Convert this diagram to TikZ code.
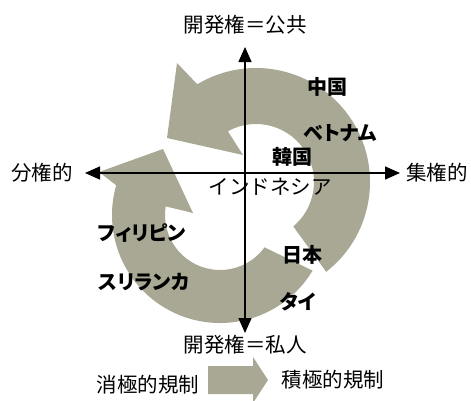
\documentclass[tikz,border=0pt]{standalone}
\usepackage{fontspec}
\newfontfamily\jp{Noto Sans CJK JP}
\newfontfamily\jpp[RawFeature=+palt]{Noto Sans CJK JP}
\usetikzlibrary{arrows.meta,calc}
\definecolor{ringgray}{RGB}{168,168,148}
\begin{document}
\begin{tikzpicture}[x=1pt,y=1pt,
  lbl/.style={font=\jp\fontsize{20.5}{20.5}\selectfont, inner sep=0pt},
  blbl/.style={font=\jpp\bfseries\fontsize{20}{20}\selectfont, inner sep=0pt},
  axisline/.style={line width=1.5pt, {Triangle[width=13pt,length=15pt]}-{Triangle[width=13pt,length=15pt]}},
  ringfill/.style={fill=ringgray, draw=none}]
\useasboundingbox (0,0) rectangle (471,400);
\clip (0,0) rectangle (471,400);
\coordinate (Cb) at (256,218);
\coordinate (Cs) at (220,185);
% big arrow (counter-clockwise, top)
\fill[ringfill] ($(Cb)+(-52:114)$) arc[start angle=-52,end angle=121,radius=114]
  -- (177,337) -- (167,262) -- (243,245)
  -- ($(Cb)+(119:58)$) arc[start angle=119,end angle=-50,radius=58] -- cycle;
% small arrow (bottom-left)
\fill[ringfill] ($(Cs)+(-31:108)$) arc[start angle=-31,end angle=-196,radius=108]
  -- (99,228) -- (163,251) -- (193,187)
  -- ($(Cs)+(-189:55)$) arc[start angle=-189,end angle=-36,radius=55] -- cycle;
% axes
\coordinate (T) at (245,353);
\coordinate (B) at (245,67);
\coordinate (L) at (85,227);
\coordinate (R) at (400,227);
\draw[axisline] (B) -- (T);
\draw[axisline] (L) -- (R);
% labels
\node[lbl] (top) at (245,375) {開発権＝公共};
\node[lbl] (bot) at (245,55) {開発権＝私人};
\node[lbl] (lft) at (42,227) {分権的};
\node[lbl] (rgt) at (437,227) {集権的};
\node[lbl] (indo) at (270,213) {インドネシア};
\node[blbl] (cn) at (327,313) {中国};
\node[blbl] (vn) at (340,267) {ベトナム};
\node[blbl] (kr) at (292,243) {韓国};
\node[blbl] (jpn) at (302,145) {日本};
\node[blbl] (th) at (298,98) {タイ};
\node[blbl] (ph) at (142,167) {フィリピン};
\node[blbl] (lk) at (144,118) {スリランカ};
\node[lbl] (neg) at (148,15) {消極的規制};
\node[lbl] (pos) at (333,20) {積極的規制};
% legend block arrow
\fill[ringfill] (208,6) -- (253,6) -- (253,-3) -- (268,20) -- (253,43) -- (253,34) -- (208,34) -- cycle;
\end{tikzpicture}
\end{document}
